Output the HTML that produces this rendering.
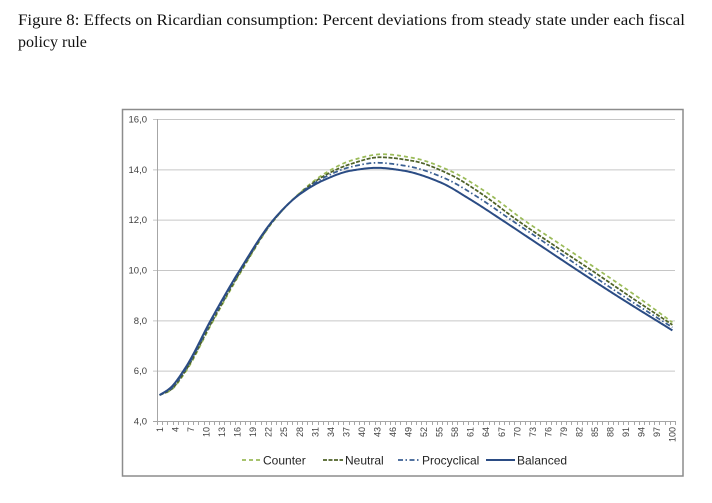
<!DOCTYPE html>
<html>
<head>
<meta charset="utf-8">
<style>
  html,body{margin:0;padding:0;background:#fff;}
  body{width:712px;height:503px;overflow:hidden;}
  svg{display:block;}
</style>
</head>
<body>
<svg id="chart" width="712" height="503" viewBox="0 0 712 503" xmlns="http://www.w3.org/2000/svg">
  <rect x="0" y="0" width="712" height="503" fill="#fff"/>
  <text x="18" y="25" font-family="Liberation Serif, serif" font-size="16" fill="#111" textLength="667" lengthAdjust="spacingAndGlyphs">Figure 8: Effects on Ricardian consumption: Percent deviations from steady state under each fiscal</text>
  <text x="18" y="47" font-family="Liberation Serif, serif" font-size="16" fill="#111">policy rule</text>

  <rect x="122.5" y="109.5" width="560.5" height="366.5" fill="#fff" stroke="#8c8c8c" stroke-width="1.5"/>

  <g id="grid" stroke="#c6c6c6" stroke-width="1"></g>
  <g id="axes"></g>
  <g id="ylabels" font-family="Liberation Sans, sans-serif" font-size="9.5" fill="#404040" text-anchor="end"></g>
  <g id="xlabels" font-family="Liberation Sans, sans-serif" font-size="9" fill="#404040"></g>
  <g id="series" fill="none"></g>

  <g font-family="Liberation Sans, sans-serif" font-size="12" fill="#262626">
    <line x1="242" y1="460" x2="261" y2="460" stroke="#9BBB59" stroke-width="1.75" stroke-dasharray="4,3"/>
    <text x="263" y="464.5">Counter</text>
    <line x1="323" y1="460" x2="343" y2="460" stroke="#4F6228" stroke-width="1.75" stroke-dasharray="4,1.5"/>
    <text x="345" y="464.5">Neutral</text>
    <line x1="398" y1="460" x2="420" y2="460" stroke="#3A5F92" stroke-width="1.75" stroke-dasharray="5,2.5,1.5,2.5"/>
    <text x="422" y="464.5">Procyclical</text>
    <line x1="486" y1="460" x2="515" y2="460" stroke="#2B4C84" stroke-width="2"/>
    <text x="517" y="464.5">Balanced</text>
  </g>
</svg>
<script>
(function(){
  var NS="http://www.w3.org/2000/svg";
  function X(i){return 157+5.18*(i-0.5);}
  function Y(v){return 421-(v-4)*25.1667;}
  function el(tag,attrs,parent,txt){var e=document.createElementNS(NS,tag);for(var k in attrs)e.setAttribute(k,attrs[k]);if(txt!==undefined)e.textContent=txt;parent.appendChild(e);return e;}
  var grid=document.getElementById('grid'),axes=document.getElementById('axes'),yl=document.getElementById('ylabels'),xl=document.getElementById('xlabels'),ser=document.getElementById('series');
  for(var v=6;v<=16;v+=2){el('line',{x1:153,y1:Y(v)+0.5,x2:675,y2:Y(v)+0.5},grid);}
  for(var v=4;v<=16;v+=2){el('text',{x:147,y:Y(v)+3.5},yl,(v).toFixed(1).replace('.',','));}
  el('line',{x1:157.5,y1:119,x2:157.5,y2:425,stroke:'#a6a6a6','stroke-width':1},axes);
  el('line',{x1:153,y1:421.5,x2:675,y2:421.5,stroke:'#a6a6a6','stroke-width':1},axes);
  for(var k=0;k<=100;k++){var x=Math.round(157+5.18*k)+0.5;el('line',{x1:x,y1:421,x2:x,y2:425,stroke:'#a6a6a6','stroke-width':1},axes);}
  for(var i=1;i<=100;i+=3){var x=X(i)+3.3;el('text',{x:x,y:427,transform:'rotate(-90 '+x+' 427)','text-anchor':'end'},xl,String(i));}

  function mono(pts){
    var n=pts.length,xs=[],ys=[],d=[],m=[];
    for(var i=0;i<n;i++){xs.push(pts[i][0]);ys.push(pts[i][1]);}
    for(var i=0;i<n-1;i++)d.push((ys[i+1]-ys[i])/(xs[i+1]-xs[i]));
    m[0]=d[0];m[n-1]=d[n-2];
    for(var i=1;i<n-1;i++){ if(d[i-1]*d[i]<=0)m[i]=0; else { var w1=2*(xs[i+1]-xs[i])+(xs[i]-xs[i-1]), w2=(xs[i+1]-xs[i])+2*(xs[i]-xs[i-1]); m[i]=(w1+w2)/(w1/d[i-1]+w2/d[i]); } }
    return function(x){
      var k=0;while(k<n-2&&x>xs[k+1])k++;
      var h=xs[k+1]-xs[k],t=(x-xs[k])/h,t2=t*t,t3=t2*t;
      return (2*t3-3*t2+1)*ys[k]+(t3-2*t2+t)*h*m[k]+(-2*t3+3*t2)*ys[k+1]+(t3-t2)*h*m[k+1];
    };
  }
  var S=[
    {c:'#9BBB59',w:1.75,da:'4,3',p:[[1,5.03],[3,5.2],[6,5.95],[11,7.85],[16.5,9.85],[23,11.95],[28,13.05],[33,13.85],[38,14.35],[44,14.6],[50,14.45],[57,13.95],[64,13.1],[71.2,12.0],[78.5,11.0],[85.7,10.0],[93,8.97],[100,7.92]]},
    {c:'#4F6228',w:1.75,da:'4,1.5',p:[[1,5.03],[3,5.22],[6,6.0],[11,7.9],[16.5,9.9],[23,11.97],[28,13.03],[33,13.77],[38,14.22],[43.5,14.48],[50,14.33],[57,13.8],[63,13.05],[69.9,12.0],[77,11.0],[84.3,10.0],[92,8.92],[100,7.82]]},
    {c:'#3A5F92',w:1.75,da:'5,2.5,1.5,2.5',p:[[1,5.03],[3,5.25],[6,6.05],[11,7.97],[16.5,9.95],[23,11.98],[28,13.02],[33,13.7],[38,14.1],[43,14.26],[49,14.12],[56,13.65],[62,12.95],[68.8,12.0],[76,11.0],[83,10.0],[91,8.9],[100,7.72]]},
    {c:'#2B4C84',w:2,da:'',p:[[1,5.03],[3,5.3],[6,6.12],[11,8.05],[16.5,10.0],[23,12.0],[28,13.0],[33,13.6],[38,13.95],[43,14.06],[48,13.95],[55,13.5],[61,12.8],[67,12.0],[74.3,11.0],[81.6,10.0],[90,8.88],[100,7.6]]}
  ];
  S.forEach(function(s){
    var f=mono(s.p),d='';
    for(var x=1;x<=100.001;x+=0.25){d+=(d?'L':'M')+X(x).toFixed(2)+','+Y(f(x)).toFixed(2);}
    var a={d:d,stroke:s.c,'stroke-width':s.w,'stroke-linejoin':'round'};
    if(s.da)a['stroke-dasharray']=s.da;
    el('path',a,ser);
  });
})();
</script>
</body>
</html>
